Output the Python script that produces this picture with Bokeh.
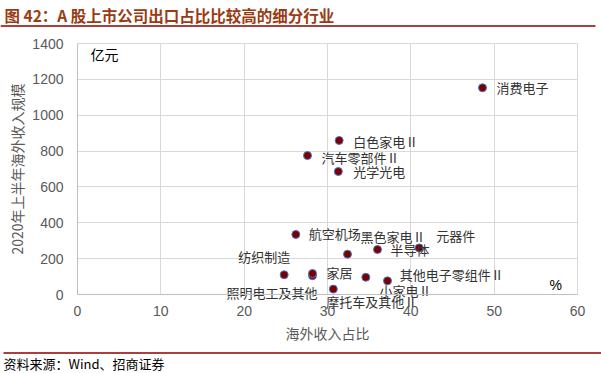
from bokeh.plotting import figure
from bokeh.layouts import column
from bokeh.models import ColumnDataSource, Range1d, Label, FixedTicker
from bokeh.core.properties import value
from bokeh.embed import file_html
from bokeh.resources import INLINE

# ---- data ----
industries = ["消费电子", "白色家电Ⅱ", "汽车零部件Ⅱ", "光学光电", "航空机场",
              "黑色家电Ⅱ", "半导体", "元器件", "纺织制造", "照明电工及其他",
              "家居", "其他电子零组件Ⅱ", "小家电Ⅱ", "摩托车及其他Ⅱ"]
export_share = [48.6, 31.4, 27.6, 31.3, 26.2, 32.4, 36.0, 41.0, 24.8, 28.2, 28.2, 34.6, 37.2, 30.7]
overseas_revenue = [1153, 859, 775, 686, 335, 225, 251, 260, 110, 105, 117, 96, 76, 30]
x_ticks = [0, 10, 20, 30, 40, 50, 60]
y_ticks = [0, 200, 400, 600, 800, 1000, 1200, 1400]

# label placement (screen px offsets, layout only)
label_dx = [14, 14, 14, 15, 13, 13, 13, 17, -46, 5, 14, 34, -8, -7]
label_dy = [0, 1, 2, 0, -1, -18, 0, -12, -18, 17, -1, -3, 10, 12]
label_align = ["left"] * 9 + ["right"] + ["left"] * 4

W = 601
TOP_H, MAIN_H, BOT_H = 30, 318, 25
PL, PR, PT, PB = 77, 577, 43, 294          # plot-area edges in page pixels
X_LO, X_HI = x_ticks[0], x_ticks[-1]
Y_LO, Y_HI = y_ticks[0], y_ticks[-1]
ux = (X_HI - X_LO) / (PR - PL)              # data units per pixel
uy = (Y_HI - Y_LO) / (PB - PT)
# the frame covers the whole main figure; axes sit at fixed locations inside it
XR = Range1d(X_LO - PL * ux, X_HI + (W - PR) * ux)
YR = Range1d(Y_LO - (TOP_H + MAIN_H - PB) * uy, Y_HI + (PT - TOP_H) * uy)
CJK = "Noto Sans CJK SC"
RULE = "#8b0000"
GRID = "#d9d9d9"


def banner(height):
    f = figure(width=W, height=height, output_backend="svg", toolbar_location=None,
               x_range=Range1d(0, W), y_range=Range1d(height, 0),
               x_axis_location=None, y_axis_location=None,
               min_border=0, min_border_left=0, min_border_right=0,
               min_border_top=0, min_border_bottom=0)
    f.grid.visible = False
    f.outline_line_color = None
    f.background_fill_color = "white"
    f.border_fill_color = "white"
    return f


# ---- title strip ----
top = banner(TOP_H)
top.text(x=[4], y=[14], text=["图 42：A 股上市公司出口占比比较高的细分行业"],
         text_font=value(CJK), text_font_size="15.5px", text_font_style="bold",
         text_color="#9a3a12", text_baseline="middle", text_align="left")
top.segment(x0=[0], y0=[25.5], x1=[595], y1=[25.5], line_color=RULE, line_width=1.5)

# ---- main chart ----
p = figure(width=W, height=MAIN_H, output_backend="svg", toolbar_location=None,
           x_range=XR, y_range=YR,
           min_border=0, min_border_left=0, min_border_right=0,
           min_border_top=0, min_border_bottom=0)
p.background_fill_color = "white"
p.border_fill_color = "white"
p.outline_line_color = None

for ax, ticks, lo_hi in ((p.xaxis[0], x_ticks, (X_LO, X_HI)), (p.yaxis[0], y_ticks, (Y_LO, Y_HI))):
    ax.ticker = FixedTicker(ticks=ticks)
    ax.bounds = lo_hi
    ax.axis_line_color = "#bfbfbf"
    ax.major_tick_line_color = None
    ax.minor_tick_line_color = None
    ax.major_label_text_font = "Liberation Sans"
    ax.major_label_text_font_size = "14px"
    ax.major_label_text_color = "#595959"
    ax.axis_label_text_font = CJK
    ax.axis_label_text_font_size = "14px"
    ax.axis_label_text_font_style = "normal"
    ax.axis_label_text_color = "#595959"
p.xaxis[0].fixed_location = Y_LO
p.yaxis[0].fixed_location = X_LO
p.yaxis[0].major_label_standoff = 8
p.xaxis[0].major_label_standoff = 5
p.yaxis[0].axis_label = "2020年上半年海外收入规模"
p.xaxis[0].axis_label = "海外收入占比"
p.yaxis[0].axis_label_standoff = 2
p.xaxis[0].axis_label_standoff = 4
p.grid.grid_line_color = GRID

# white masks so grid lines stay inside the plot area
p.quad(left=[XR.start, XR.start, X_HI, XR.start], right=[X_LO, XR.end, XR.end, XR.end],
       bottom=[YR.start, YR.start, YR.start, Y_HI], top=[YR.end, Y_LO, YR.end, YR.end],
       fill_color="white", line_color=None)
# plot-area edges at top and right
p.segment(x0=[X_LO, X_HI], y0=[Y_HI, Y_LO], x1=[X_HI, X_HI], y1=[Y_HI, Y_HI],
          line_color=GRID, line_width=1)

src = ColumnDataSource(dict(x=export_share, y=overseas_revenue, name=industries,
                            dx=label_dx, dy=label_dy, align=label_align))
p.scatter("x", "y", source=src, size=8, fill_color="#7a0000", line_color="#4a78c8", line_width=1)
p.text("x", "y", text="name", source=src, x_offset="dx", y_offset="dy", text_align="align",
       text_baseline="middle", text_font=value(CJK), text_font_size="13px", text_color="#333333")

FB = TOP_H + MAIN_H
p.add_layout(Label(x=90, y=FB - 53, x_units="screen", y_units="screen", text="亿元",
                   text_font=CJK, text_font_size="14px", text_color="#000000",
                   text_baseline="middle"))
p.add_layout(Label(x=549, y=FB - 284, x_units="screen", y_units="screen", text="%",
                   text_font="Liberation Sans", text_font_size="14px", text_color="#000000",
                   text_baseline="middle"))

# ---- source strip ----
bot = banner(BOT_H)
bot.segment(x0=[3], y0=[4.5], x1=[601], y1=[4.5], line_color=RULE, line_width=1.5)
bot.text(x=[3], y=[15], text=["资料来源：Wind、招商证券"], text_font=value(CJK),
         text_font_size="13px", text_color="#000000", text_baseline="middle", text_align="left")

layout = column(top, p, bot, spacing=0)
open("out.html", "w").write(file_html(layout, INLINE))
